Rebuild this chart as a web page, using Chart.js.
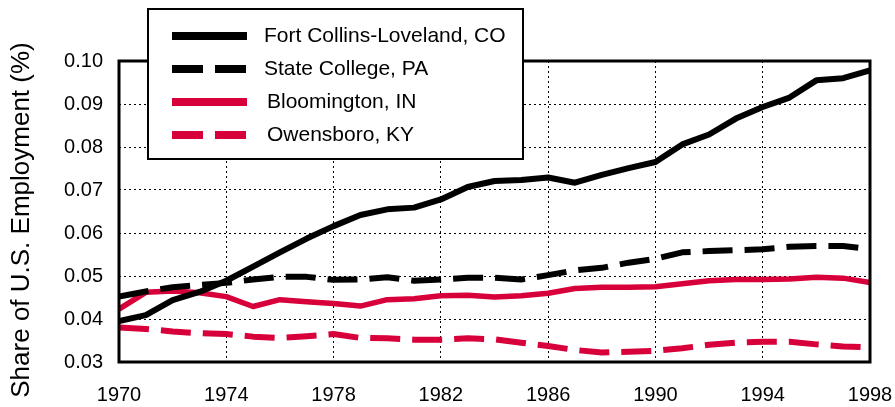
<!DOCTYPE html>
<html>
<head>
<meta charset="utf-8">
<script src="https://cdn.jsdelivr.net/npm/chart.js@4/dist/chart.umd.min.js"></script>
<style>
  html, body { margin: 0; padding: 0; background: #fff; }
  #wrap { width: 895px; height: 407px; }
</style>
</head>
<body>
<div id="wrap"><canvas id="c" width="895" height="407"></canvas></div>
<script>
const years = [1970,1971,1972,1973,1974,1975,1976,1977,1978,1979,1980,1981,1982,1983,1984,1985,1986,1987,1988,1989,1990,1991,1992,1993,1994,1995,1996,1997,1998];
const seriesNames = ["Fort Collins-Loveland, CO", "State College, PA", "Bloomington, IN", "Owensboro, KY"];
const fortCollins = [0.0395,0.0409,0.0444,0.0463,0.0489,0.0522,0.0555,0.0587,0.0616,0.0642,0.0655,0.0659,0.0678,0.0707,0.0721,0.0723,0.0729,0.0717,0.0735,0.0751,0.0765,0.0806,0.0829,0.0866,0.0893,0.0915,0.0955,0.0960,0.0978];
const stateCollege = [0.0452,0.0464,0.0474,0.0479,0.0484,0.0492,0.0498,0.0498,0.0491,0.0492,0.0497,0.0489,0.0492,0.0496,0.0496,0.0492,0.0502,0.0513,0.0519,0.0531,0.0540,0.0555,0.0558,0.0560,0.0562,0.0568,0.0570,0.0570,0.0562];
const bloomington = [0.0423,0.0462,0.0465,0.0461,0.0452,0.0429,0.0445,0.0440,0.0436,0.0430,0.0445,0.0447,0.0454,0.0455,0.0451,0.0454,0.0460,0.0471,0.0474,0.0474,0.0475,0.0482,0.0489,0.0492,0.0492,0.0493,0.0497,0.0495,0.0485];
const owensboro = [0.0380,0.0377,0.0371,0.0367,0.0365,0.0359,0.0356,0.0360,0.0365,0.0356,0.0355,0.0352,0.0352,0.0355,0.0353,0.0345,0.0337,0.0328,0.0322,0.0324,0.0326,0.0332,0.0340,0.0345,0.0347,0.0347,0.0341,0.0336,0.0334];
const xTickMin = 1970, xTickMax = 1998, xTickStep = 4;
const yTickMin = 0.03, yTickMax = 0.10, yTickStep = 0.01;
const yTitle = "Share of U.S. Employment (%)";

const RED = '#d7003a';
const FONT = '"Liberation Sans", Arial, Helvetica, sans-serif';
const DASH = [30, 12];

function pts(vals) { return years.map((y, i) => ({ x: y, y: vals[i] })); }

const styles = [
  { color: '#000', dash: [], width: 6 },
  { color: '#000', dash: DASH, width: 6 },
  { color: RED, dash: [], width: 5.5 },
  { color: RED, dash: DASH, width: 6 }
];
const seriesVals = [fortCollins, stateCollege, bloomington, owensboro];

const datasets = seriesVals.map((v, i) => ({
  label: seriesNames[i],
  data: pts(v),
  borderColor: styles[i].color,
  backgroundColor: styles[i].color,
  borderWidth: styles[i].width,
  borderDash: styles[i].dash,
  borderCapStyle: 'butt',
  borderJoinStyle: 'round',
  pointRadius: 0,
  tension: 0,
  fill: false,
  order: i
}));

const framePlugin = {
  id: 'frame',
  afterDatasetsDraw(chart) {
    const { ctx, chartArea: a } = chart;
    ctx.save();
    ctx.lineWidth = 3;
    ctx.strokeStyle = '#000';
    ctx.setLineDash([]);
    ctx.strokeRect(a.left, a.top, a.right - a.left, a.bottom - a.top);
    ctx.restore();
  }
};

const yTitlePlugin = {
  id: 'yTitle',
  afterDraw(chart) {
    const { ctx } = chart;
    ctx.save();
    ctx.translate(22, 220);
    ctx.rotate(-Math.PI / 2);
    ctx.fillStyle = '#000';
    ctx.font = '26px ' + FONT;
    ctx.textAlign = 'center';
    ctx.textBaseline = 'middle';
    ctx.fillText(yTitle, 0, 0);
    ctx.restore();
  }
};

const legendPlugin = {
  id: 'boxLegend',
  afterDraw(chart) {
    const { ctx } = chart;
    const bx = 148, by = 9, bw = 375, bh = 150;
    ctx.save();
    ctx.fillStyle = '#fff';
    ctx.fillRect(bx, by, bw, bh);
    ctx.lineWidth = 2;
    ctx.strokeStyle = '#000';
    ctx.setLineDash([]);
    ctx.strokeRect(bx, by, bw, bh);
    const rows = [36, 69, 102, 135];
    const textX = [264, 264, 267, 267];
    chart.data.datasets.forEach((d, i) => {
      const y = rows[i];
      ctx.beginPath();
      ctx.lineWidth = 8;
      ctx.lineCap = 'butt';
      ctx.strokeStyle = d.borderColor;
      ctx.setLineDash(d.borderDash && d.borderDash.length ? [31, 12] : []);
      ctx.moveTo(172, y);
      ctx.lineTo(247, y);
      ctx.stroke();
      ctx.setLineDash([]);
      ctx.fillStyle = '#000';
      ctx.font = '21px ' + FONT;
      ctx.textBaseline = 'middle';
      ctx.textAlign = 'left';
      ctx.fillText(d.label, textX[i], y);
    });
    ctx.restore();
  }
};

new Chart(document.getElementById('c'), {
  type: 'line',
  data: { datasets },
  options: {
    responsive: false,
    animation: false,
    devicePixelRatio: 1,
    layout: { padding: { left: 0, top: 61, right: 25, bottom: 0 } },
    plugins: { legend: { display: false }, tooltip: { enabled: false } },
    scales: {
      x: {
        type: 'linear',
        min: xTickMin, max: xTickMax,
        afterFit(s) { s.height = 45; s.paddingLeft = 0; s.paddingRight = 0; },
        ticks: {
          stepSize: xTickStep,
          color: '#000',
          font: { family: FONT, size: 20 },
          padding: 21,
          maxRotation: 0,
          callback: v => String(v)
        },
        grid: { color: '#000', lineWidth: 1, drawTicks: false },
        border: { display: false, dash: [2, 3] }
      },
      y: {
        min: yTickMin, max: yTickMax,
        afterFit(s) { s.width = 119; s.paddingTop = 0; s.paddingBottom = 0; },
        ticks: {
          stepSize: yTickStep,
          color: '#000',
          font: { family: FONT, size: 20 },
          padding: 16,
          callback: v => Number(v).toFixed(2)
        },
        grid: { color: '#000', lineWidth: 1, drawTicks: false },
        border: { display: false, dash: [2, 3] }
      }
    }
  },
  plugins: [framePlugin, legendPlugin, yTitlePlugin]
});
</script>
</body>
</html>
